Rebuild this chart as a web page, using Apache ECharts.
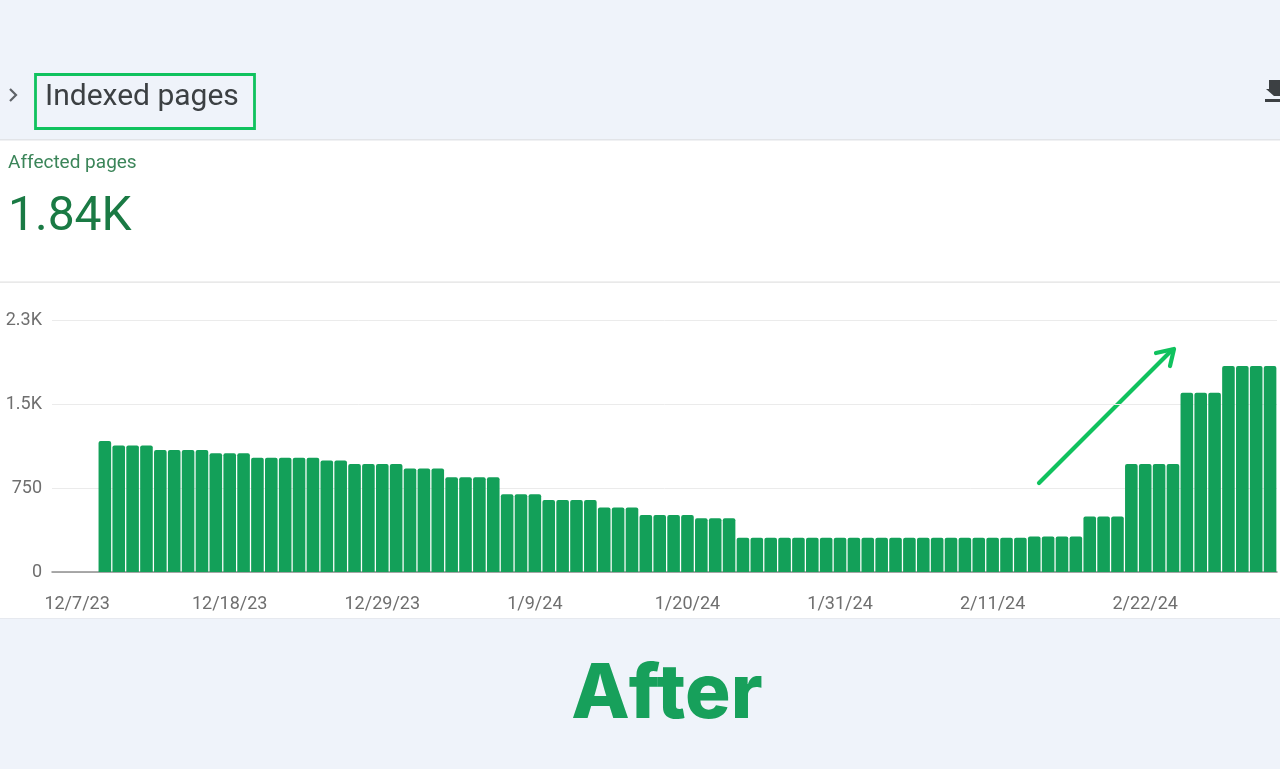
<!DOCTYPE html>
<html><head><meta charset="utf-8">
<script src="https://cdn.jsdelivr.net/npm/echarts@6/dist/echarts.min.js"></script>
<style>html,body{margin:0;padding:0;background:#eff3fa;overflow:hidden}#c{width:1280px;height:769px;}</style>
</head><body><div id="c"></div>
<script>
const dates = [
'12/6/23','12/7/23','12/8/23','12/9/23','12/10/23','12/11/23','12/12/23','12/13/23','12/14/23','12/15/23','12/16/23','12/17/23','12/18/23','12/19/23','12/20/23','12/21/23','12/22/23','12/23/23','12/24/23','12/25/23','12/26/23','12/27/23','12/28/23','12/29/23','12/30/23','12/31/23',
'1/1/24','1/2/24','1/3/24','1/4/24','1/5/24','1/6/24','1/7/24','1/8/24','1/9/24','1/10/24','1/11/24','1/12/24','1/13/24','1/14/24','1/15/24','1/16/24','1/17/24','1/18/24','1/19/24','1/20/24','1/21/24','1/22/24','1/23/24','1/24/24','1/25/24','1/26/24','1/27/24','1/28/24','1/29/24','1/30/24','1/31/24',
'2/1/24','2/2/24','2/3/24','2/4/24','2/5/24','2/6/24','2/7/24','2/8/24','2/9/24','2/10/24','2/11/24','2/12/24','2/13/24','2/14/24','2/15/24','2/16/24','2/17/24','2/18/24','2/19/24','2/20/24','2/21/24','2/22/24','2/23/24','2/24/24','2/25/24','2/26/24','2/27/24','2/28/24','2/29/24',
'3/1/24','3/2/24'];
const pages = [
null,null,null,
1170,1130,1130,1130,1090,1090,1090,1090,1060,1060,1060,1020,1020,1020,1020,1020,995,995,
965,965,965,965,925,925,925,845,845,845,845,695,695,695,643,643,643,643,575,575,575,
510,510,510,510,480,480,480,
305,305,305,305,305,305,305,305,305,305,305,305,305,305,305,305,305,305,305,305,305,
318,318,318,318,495,495,495,965,965,965,965,1600,1600,1600,1840,1840,1840,1840];
const xTickLabels = ['12/7/23','12/18/23','12/29/23','1/9/24','1/20/24','1/31/24','2/11/24','2/22/24'];
const yTicks = [0,750,1500,2250];
const yTickLabels = ['0','750','1.5K','2.3K'];
const headline = '1.84K';

const chart = echarts.init(document.getElementById('c'), null, {renderer:'canvas'});
const FONT = 'Roboto';
const barData = pages.map((v,i)=> v==null ? null : [i, v]).filter(d=>d);
const green = '#10c25e';

chart.setOption({
  animation:false,
  backgroundColor:'transparent',
  grid:{left:52, right:3, top:320, bottom:197},
  xAxis:{
    type:'value', min:-0.81, max:87.5,
    splitLine:{show:false},
    axisTick:{show:false},
    axisLine:{show:true, lineStyle:{color:'#8f8f8f', width:1.5}},
    axisLabel:{
      customValues: xTickLabels.map(l=>dates.indexOf(l)),
      formatter: v => dates[Math.round(v)],
      color:'#6f6f6f', fontFamily:FONT, fontSize:18, margin:23
    }
  },
  yAxis:{
    type:'value', min:0, max:2250, interval:750,
    axisLine:{show:false}, axisTick:{show:false},
    splitLine:{lineStyle:{color:'#ebebeb', width:1}},
    axisLabel:{
      formatter: v => yTickLabels[yTicks.indexOf(v)],
      color:'#6f6f6f', fontFamily:FONT, fontSize:18, margin:10
    }
  },
  series:[{
    type:'bar', data:barData, barWidth:12.6,
    itemStyle:{color:'#13a059', borderRadius:[2,2,0,0]}
  }],
  graphic:[
    {type:'rect', silent:true, z:-10, shape:{x:0,y:140,width:1280,height:479}, style:{fill:'#ffffff'}},
    {type:'rect', silent:true, z:-9, shape:{x:0,y:139,width:1280,height:1.5}, style:{fill:'#e2e4e8'}},
    {type:'rect', silent:true, z:-9, shape:{x:0,y:281.5,width:1280,height:1.2}, style:{fill:'#e2e2e2'}},
    {type:'rect', silent:true, z:-9, shape:{x:0,y:618,width:1280,height:1}, style:{fill:'#e6e9ef'}},
    {type:'polyline', silent:true, shape:{points:[[10,89],[16,95],[10,101]]}, style:{stroke:'#5f6368', lineWidth:2.2, fill:null}},
    {type:'text', silent:true, style:{x:45, y:97, text:'Indexed pages', fill:'#3c4043', font:'400 30px Roboto', textVerticalAlign:'middle'}},
    {type:'rect', silent:true, shape:{x:35.5,y:74.5,width:219,height:54}, style:{stroke:green, lineWidth:2.8, fill:null}},
    {type:'polygon', silent:true, shape:{points:[[1269,80],[1280,80],[1280,96],[1274,96],[1266,89],[1269,89]]}, style:{fill:'#3c4043'}},
    {type:'rect', silent:true, shape:{x:1265,y:99,width:15,height:3}, style:{fill:'#3c4043'}},
    {type:'text', silent:true, style:{x:8, y:163, text:'Affected pages', fill:'#3b8559', font:'400 19px Roboto', textVerticalAlign:'middle'}},
    {type:'text', silent:true, style:{x:8, y:218, text:headline, fill:'#1a7a44', font:'400 48px Roboto', textVerticalAlign:'middle'}},
    {type:'line', silent:true, shape:{x1:1039,y1:483,x2:1172,y2:350}, style:{stroke:green, lineWidth:4.2, lineCap:'round'}},
    {type:'polyline', silent:true, shape:{points:[[1156,353],[1174,349],[1170,366]]}, style:{stroke:green, lineWidth:4.2, lineCap:'round', lineJoin:'round', fill:null}},
    {type:'text', silent:true, style:{x:667, y:695, text:'After', fill:'#17a05b', font:'800 76px Inter', textAlign:'center', textVerticalAlign:'middle'}}
  ]
});
</script></body></html>
